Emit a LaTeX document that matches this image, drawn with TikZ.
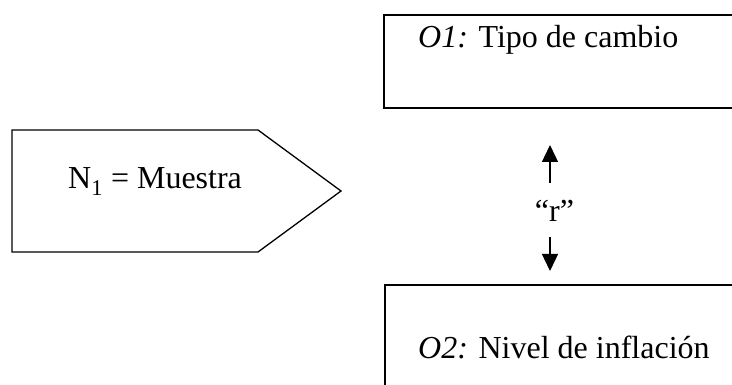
\documentclass[tikz,border=0pt]{standalone}
\usepackage{fontspec}
\setmainfont{Liberation Serif}
\usetikzlibrary{arrows.meta}

\tikzset{
  frame/.style={draw=black, line width=1.3pt, inner sep=0pt},
  label text/.style={inner sep=0pt, anchor=base west, font=\fontsize{32}{38}\selectfont},
  link/.style={line width=1.3pt, -{Triangle[width=16pt,length=17pt]}}
}

\begin{document}
\begin{tikzpicture}[x=1pt, y=-1pt]
  \clip (0,0) rectangle (732,385);
  \fill[white] (0,0) rectangle (732,385);

  % sample block (pentagon pointing right)
  \draw[line width=1.3pt, line join=miter]
    (12,130) -- (258,130) -- (341,191) -- (258,252) -- (12,252) -- cycle;
  \node[label text] (sample) at (68,189) {N\textsubscript{1} = Muestra};

  % observation boxes (they run past the right edge)
  \node[frame, minimum width=361pt, minimum height=93pt] (obsA) at (564.5,61.5) {};
  \node[label text] (obsAtext) at (418,48) {\textit{O1:} Tipo de cambio};

  \node[frame, minimum width=360pt, minimum height=110pt] (obsB) at (565,340) {};
  \node[label text] (obsBtext) at (418,358) {\textit{O2:} Nivel de inflación};

  % correlation between the two observations
  \node[label text, anchor=base] (corr) at (554.5,222) {“r”};
  \coordinate (upFrom) at (550,183);
  \coordinate (upTo) at (550,145);
  \coordinate (downFrom) at (550,237);
  \coordinate (downTo) at (550,271);
  \draw[link] (upFrom) -- (upTo);
  \draw[link] (downFrom) -- (downTo);
\end{tikzpicture}
\end{document}
